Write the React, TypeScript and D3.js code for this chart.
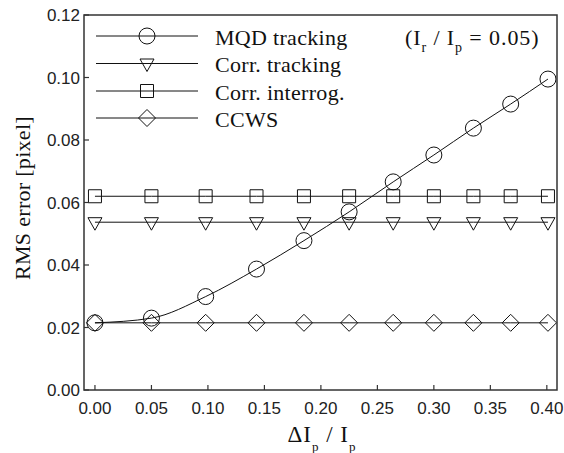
import React from "react";
import * as d3 from "d3";

const xValues = [0, 0.05, 0.098, 0.143, 0.185, 0.225, 0.264, 0.3, 0.335, 0.368, 0.401];
const mqdTracking = [0.0215, 0.023, 0.0299, 0.0387, 0.0478, 0.057, 0.0666, 0.0752, 0.0838, 0.0915, 0.0995];
const corrTracking = [0.0537, 0.0537, 0.0537, 0.0537, 0.0537, 0.0537, 0.0537, 0.0537, 0.0537, 0.0537, 0.0537];
const corrInterrog = [0.062, 0.062, 0.062, 0.062, 0.062, 0.062, 0.062, 0.062, 0.062, 0.062, 0.062];
const ccws = [0.0215, 0.0215, 0.0215, 0.0215, 0.0215, 0.0215, 0.0215, 0.0215, 0.0215, 0.0215, 0.0215];
const seriesNames = ["MQD tracking", "Corr. tracking", "Corr. interrog.", "CCWS"];
const seriesMarkers = ["circle", "triangle", "square", "diamond"];
const xTicks = [0, 0.05, 0.1, 0.15, 0.2, 0.25, 0.3, 0.35, 0.4];
const yTicks = [0, 0.02, 0.04, 0.06, 0.08, 0.1, 0.12];

const W = 564, H = 453;
const L = 84, R = 557, T = 15, B = 390;

function markerPath(kind: string): string {
  switch (kind) {
    case "circle": {
      const p = d3.path();
      p.arc(0, 0, 8, 0, Math.PI * 2);
      p.closePath();
      return p.toString();
    }
    case "triangle":
      return "M-7,-4.5L7,-4.5L0,8Z";
    case "square":
      return "M-6.5,-6.5L6.5,-6.5L6.5,6.5L-6.5,6.5Z";
    default:
      return "M-8.5,0L0,-8.5L8.5,0L0,8.5Z";
  }
}

export default function App() {
  const x = d3.scaleLinear().domain([-0.0097, 0.409]).range([L, R]);
  const y = d3.scaleLinear().domain([0, 0.12]).range([B, T]);
  const allSeries = [mqdTracking, corrTracking, corrInterrog, ccws];
  const lineSmooth = d3
    .line<number>()
    .x((_, i) => x(xValues[i]))
    .y((d) => y(d))
    .curve(d3.curveMonotoneX);
  const lineStraight = d3
    .line<number>()
    .x((_, i) => x(xValues[i]))
    .y((d) => y(d));

  const sans = "'Liberation Sans', Arial, Helvetica, sans-serif";
  const serif = "'Liberation Serif', 'Times New Roman', serif";
  const legendY = [36, 63.5, 91, 118];

  return (
    <svg
      width={W}
      height={H}
      style={{ position: "fixed", left: 0, top: 0, background: "#fff" }}
    >
      <rect x={0} y={0} width={W} height={H} fill="#fff" />
      {allSeries.map((s, k) => (
        <path
          key={"l" + k}
          d={(k === 0 ? lineSmooth(s) : lineStraight(s)) || ""}
          fill="none"
          stroke="#111"
          strokeWidth={1}
        />
      ))}
      {allSeries.map((s, k) =>
        s.map((v, i) => (
          <path
            key={"m" + k + "-" + i}
            d={markerPath(seriesMarkers[k])}
            transform={`translate(${x(xValues[i])},${y(v)})`}
            fill="none"
            stroke="#111"
            strokeWidth={1}
          />
        ))
      )}
      {seriesNames.map((name, k) => (
        <g key={"lg" + k}>
          <line x1={96} x2={198} y1={legendY[k]} y2={legendY[k]} stroke="#111" strokeWidth={1} />
          <path
            d={markerPath(seriesMarkers[k])}
            transform={`translate(147,${legendY[k]})`}
            fill="none"
            stroke="#111"
            strokeWidth={1}
          />
          <text
            x={215}
            y={legendY[k] + 8.5}
            fontFamily={serif}
            fontSize={22}
            letterSpacing={0.3}
            fill="#111"
          >
            {name}
          </text>
        </g>
      ))}
      <text x={405} y={45} fontFamily={serif} fontSize={22} letterSpacing={0.9} fill="#111">
        (I<tspan dy={7} fontSize={14}>r</tspan>
        <tspan dy={-7}> / I</tspan>
        <tspan dy={7} fontSize={14}>p</tspan>
        <tspan dy={-7}> = 0.05)</tspan>
      </text>
      <rect x={L} y={T} width={R - L} height={B - T} fill="none" stroke="#333" strokeWidth={1.5} />
      {yTicks.map((t) => (
        <g key={"yt" + t}>
          <line x1={L} x2={L + 5} y1={y(t)} y2={y(t)} stroke="#333" strokeWidth={1.2} />
          <text
            x={80}
            y={y(t) + 6}
            textAnchor="end"
            fontFamily={sans}
            fontSize={17}
            fill="#222"
          >
            {d3.format(".2f")(t)}
          </text>
        </g>
      ))}
      {xTicks.map((t) => (
        <g key={"xt" + t}>
          <line x1={x(t)} x2={x(t)} y1={B} y2={B - 5} stroke="#333" strokeWidth={1.2} />
          <text
            x={x(t)}
            y={414}
            textAnchor="middle"
            fontFamily={sans}
            fontSize={17}
            fill="#222"
          >
            {d3.format(".2f")(t)}
          </text>
        </g>
      ))}
      <text
        transform={`translate(30,198) rotate(-90)`}
        textAnchor="middle"
        fontFamily={serif}
        fontSize={22}
        letterSpacing={0.3}
        fill="#111"
      >
        RMS error [pixel]
      </text>
      <text
        x={322}
        y={442}
        textAnchor="middle"
        fontFamily={serif}
        fontSize={23}
        letterSpacing={1}
        fill="#111"
      >
        ΔI<tspan dy={9} fontSize={13}>p</tspan>
        <tspan dy={-9}> / I</tspan>
        <tspan dy={9} fontSize={13}>p</tspan>
      </text>
    </svg>
  );
}
